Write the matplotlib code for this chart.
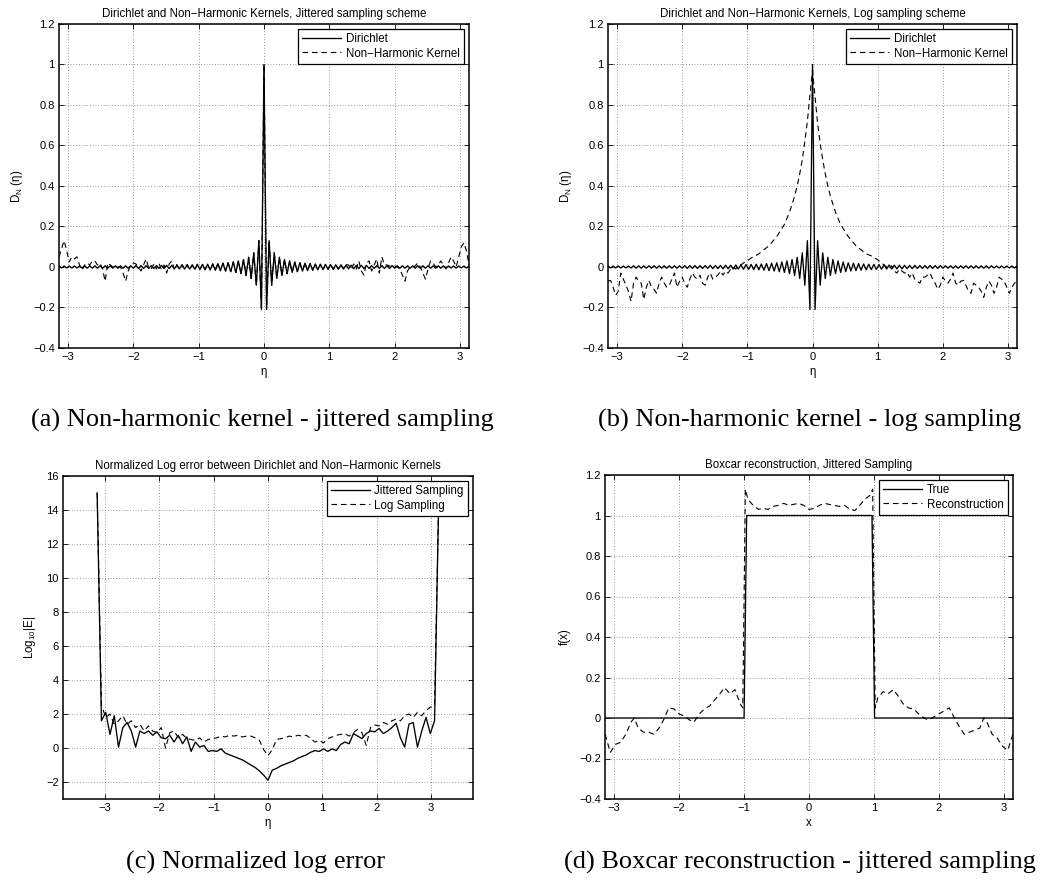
import numpy as np
import matplotlib
matplotlib.use("Agg")
import matplotlib.pyplot as plt

plt.rcParams['font.family'] = ['Liberation Sans', 'DejaVu Sans']
plt.rcParams['mathtext.fontset'] = 'custom'
plt.rcParams['mathtext.rm'] = 'Liberation Sans'
plt.rcParams['mathtext.it'] = 'Liberation Sans:italic'
plt.rcParams['mathtext.default'] = 'regular'
plt.rcParams['axes.unicode_minus'] = True

# ---------------- data ----------------
# panels (a),(b): samples k = -80..80 on [-pi, pi]
dirichlet = [
    0.005, -0.005, 0.005, -0.005, 0.005, -0.005, 0.005, -0.005, 0.005, -0.005,
    0.006, -0.006, 0.006, -0.006, 0.006, -0.006, 0.006, -0.006, 0.006, -0.006,
    0.006, -0.006, 0.006, -0.006, 0.006, -0.006, 0.006, -0.006, 0.006, -0.006,
    0.007, -0.007, 0.007, -0.007, 0.007, -0.007, 0.007, -0.007, 0.007, -0.007,
    0.008, -0.008, 0.008, -0.008, 0.008, -0.009, 0.009, -0.009, 0.009, -0.010,
    0.010, -0.010, 0.011, -0.011, 0.012, -0.012, 0.013, -0.013, 0.014, -0.014,
    0.015, -0.016, 0.017, -0.018, 0.019, -0.020, 0.021, -0.023, 0.025, -0.027,
    0.030, -0.033, 0.037, -0.042, 0.048, -0.057, 0.070, -0.090, 0.130, -0.210,
    1.000,
    -0.210, 0.130, -0.090, 0.070, -0.057, 0.048, -0.042, 0.037, -0.033, 0.030,
    -0.027, 0.025, -0.023, 0.021, -0.020, 0.019, -0.018, 0.017, -0.016, 0.015,
    -0.014, 0.014, -0.013, 0.013, -0.012, 0.012, -0.011, 0.011, -0.010, 0.010,
    -0.010, 0.009, -0.009, 0.009, -0.009, 0.008, -0.008, 0.008, -0.008, 0.008,
    -0.007, 0.007, -0.007, 0.007, -0.007, 0.007, -0.007, 0.007, -0.007, 0.007,
    -0.006, 0.006, -0.006, 0.006, -0.006, 0.006, -0.006, 0.006, -0.006, 0.006,
    -0.006, 0.006, -0.006, 0.006, -0.006, 0.006, -0.006, 0.006, -0.006, 0.006,
    -0.005, 0.005, -0.005, 0.005, -0.005, 0.005, -0.005, 0.005, -0.005, 0.005,
]

nonharm_jitter = [
    0.050, 0.090, 0.130, 0.080, 0.025, 0.050, 0.040, 0.050, 0.010, -0.015,
    0.010, 0.020, 0.010, 0.030, 0.030, 0.010, 0.020, -0.010, -0.070, 0.020,
    0.010, 0.000, 0.005, 0.000, 0.000, -0.030, -0.070, -0.020, 0.010, 0.020,
    0.015, 0.000, -0.020, 0.010, 0.040, -0.005, -0.010, 0.015, -0.010, 0.020,
    -0.015, 0.010, -0.030, 0.015, 0.030, -0.010, 0.012, -0.012,
    0.012, -0.008, 0.013, -0.011, 0.009, -0.012, 0.014, -0.011, 0.012, -0.014,
    0.013, -0.015, 0.015, -0.016, 0.017, -0.018, 0.019, -0.020, 0.021, -0.023,
    0.025, -0.027, 0.030, -0.033, 0.037, -0.042, 0.048, -0.057, 0.070, -0.090,
    0.130, -0.210,
    1.000,
    -0.210, 0.130, -0.090, 0.070, -0.057, 0.048, -0.042, 0.037, -0.033, 0.030,
    -0.027, 0.025, -0.023, 0.021, -0.020, 0.019, -0.018, 0.017, -0.016, 0.015,
    -0.015, 0.013, -0.014, 0.012, -0.011, 0.014, -0.012, 0.009, -0.011, 0.013,
    -0.008, 0.012,
    0.010, -0.012, 0.015, -0.010, 0.030, -0.020, -0.040, 0.020, 0.030, -0.020,
    0.010, 0.040, -0.030, 0.050, 0.010, 0.010, 0.005, 0.000, 0.005, 0.000,
    -0.010, -0.040, -0.070, -0.020, 0.000, 0.000, 0.005, 0.020, 0.000, -0.030,
    -0.060, -0.010, 0.030, 0.020, 0.000, 0.010, 0.030, 0.010, -0.010, 0.020,
    0.050, 0.030, 0.000, 0.050, 0.100, 0.120, 0.080, 0.010,
]

nonharm_log = [
    -0.070, -0.066, -0.100, -0.140, -0.120, -0.030, -0.060, -0.090, -0.120, -0.170,
    -0.080, -0.050, -0.070, -0.080, -0.160, -0.100, -0.066, -0.100, -0.110, -0.130,
    -0.080, -0.050, -0.080, -0.100, -0.090, -0.060, -0.030, -0.100, -0.070, -0.050,
    -0.080, -0.100, -0.060, -0.030, -0.050, -0.060, -0.040, -0.080, -0.090, -0.050,
    -0.030, -0.060, -0.050, -0.040, -0.020, -0.040, -0.020, -0.030,
    -0.010, 0.000, -0.010, 0.010, 0.010, 0.020, 0.025, 0.035, 0.045, 0.050,
    0.058, 0.065, 0.075, 0.085, 0.095, 0.105, 0.120, 0.135, 0.150, 0.170,
    0.190, 0.210, 0.240, 0.270, 0.310, 0.350, 0.400, 0.460, 0.530, 0.620,
    0.720, 0.850,
    0.970,
    0.840, 0.710, 0.610, 0.530, 0.460, 0.400, 0.350, 0.310, 0.270, 0.240,
    0.210, 0.190, 0.170, 0.150, 0.135, 0.120, 0.105, 0.095, 0.085, 0.075,
    0.065, 0.060, 0.055, 0.045, 0.040, 0.030, 0.020, 0.010, 0.000, -0.010,
    0.005, -0.020,
    -0.030, -0.010, -0.020, -0.030, -0.025, -0.050, -0.030, -0.060, -0.070, -0.080,
    -0.050, -0.050, -0.040, -0.030, -0.060, -0.080, -0.110, -0.090, -0.050, -0.070,
    -0.080, -0.060, -0.030, -0.080, -0.090, -0.070, -0.066, -0.090, -0.120, -0.130,
    -0.080, -0.090, -0.100, -0.120, -0.150, -0.100, -0.070, -0.090, -0.130, -0.100,
    -0.050, -0.060, -0.070, -0.100, -0.130, -0.100, -0.080, -0.070,
]

# panel (c): samples k = -40..40 on [-pi, pi]
logerr_jitter = [
    15.0, 1.6, 2.1, 0.8, 1.9, 0.05, 1.2, 1.5, 1.0, 0.05,
    1.0, 0.85, 1.0, 0.75, 0.95, 0.6, 0.55, 0.75, 0.35, 0.75,
    0.25, 0.65, -0.2, 0.35, 0.05, 0.15, -0.2, -0.15, -0.2, -0.05,
    -0.3, -0.4, -0.5, -0.6, -0.7, -0.85, -1.0, -1.15, -1.35, -1.6,
    -1.9,
    -1.3, -1.2, -1.05, -0.95, -0.85, -0.75, -0.6, -0.5, -0.4, -0.25,
    -0.15, -0.2, -0.05, -0.2, -0.05, -0.15, 0.2, 0.35, 0.25, 0.85,
    0.7, 0.55, 0.85, 1.0, 0.95, 1.15, 0.85, 1.0, 1.2, 1.45,
    0.6, 0.05, 1.4, 1.5, 0.05, 1.0, 1.8, 0.85, 1.6, 15.0,
]
logerr_log = [
    15.0, 2.5, 1.8, 2.0, 1.4, 1.6, 1.9, 1.4, 1.6, 1.2,
    1.4, 1.0, 1.3, 1.0, 0.9, 1.2, 0.0, 0.9, 1.0, 0.6,
    0.8, 0.55, 0.5, 0.45, 0.6, 0.35, 0.5, 0.55, 0.6, 0.7,
    0.65, 0.75, 0.7, 0.75, 0.65, 0.7, 0.7, 0.6, 0.45, -0.1,
    -0.45,
    -0.1, 0.5, 0.55, 0.6, 0.7, 0.65, 0.75, 0.7, 0.75, 0.55,
    0.35, 0.45, 0.3, 0.55, 0.65, 0.75, 0.8, 0.85, 0.7, 0.9,
    1.1, 0.9, 0.15, 1.2, 1.35, 1.3, 1.5, 1.4, 1.6, 1.7,
    1.6, 1.9, 2.0, 1.8, 2.1, 1.9, 2.2, 2.4, 2.5, 15.0,
]

# panel (d)
box_x = [-3.1416, -1.0, -0.96, 0.97, 1.01, 3.1416]
box_y = [0.0, 0.0, 1.0, 1.0, 0.0, 0.0]
recon_x = [
    -3.14, -3.06, -2.98, -2.90, -2.82, -2.74, -2.69, -2.63, -2.55, -2.47,
    -2.39, -2.31, -2.24, -2.16, -2.08, -2.00, -1.92, -1.84, -1.77, -1.69,
    -1.61, -1.53, -1.45, -1.37, -1.30, -1.22, -1.14, -1.06, -1.02, -0.98,
    -0.94, -0.86, -0.78, -0.71, -0.63, -0.55, -0.47, -0.39, -0.31, -0.24,
    -0.16, -0.08, 0.00, 0.08, 0.16, 0.24, 0.31, 0.39, 0.47, 0.55,
    0.63, 0.71, 0.78, 0.86, 0.94, 0.98, 1.02, 1.06, 1.14, 1.22,
    1.30, 1.37, 1.45, 1.53, 1.61, 1.69, 1.77, 1.84, 1.92, 2.00,
    2.08, 2.16, 2.24, 2.31, 2.39, 2.47, 2.55, 2.63, 2.69, 2.74,
    2.82, 2.90, 2.98, 3.06, 3.14,
]
recon_y = [
    -0.08, -0.17, -0.13, -0.12, -0.08, -0.02, 0.00, -0.05, -0.07, -0.07,
    -0.08, -0.05, -0.01, 0.05, 0.045, 0.02, 0.01, -0.01, -0.02, 0.02,
    0.045, 0.06, 0.09, 0.12, 0.15, 0.12, 0.14, 0.07, 0.05, 1.13,
    1.08, 1.05, 1.03, 1.035, 1.03, 1.045, 1.05, 1.06, 1.05, 1.055,
    1.06, 1.05, 1.03, 1.035, 1.05, 1.06, 1.055, 1.05, 1.045, 1.05,
    1.03, 1.025, 1.05, 1.08, 1.10, 1.13, 0.05, 0.10, 0.13, 0.12,
    0.14, 0.11, 0.07, 0.05, 0.045, 0.02, 0.00, -0.01, 0.005, 0.02,
    0.035, 0.05, 0.00, -0.04, -0.08, -0.07, -0.06, -0.05, 0.00, -0.02,
    -0.08, -0.10, -0.14, -0.16, -0.08,
]

eta_ab = np.linspace(-np.pi, np.pi, len(dirichlet))
eta_c = np.linspace(-np.pi, np.pi, len(logerr_jitter))

# ---------------- figure ----------------
W, H = 1045, 886
fig = plt.figure(figsize=(W / 100, H / 100), dpi=100)


def box(l, t, r, b):
    return [l / W, 1 - b / H, (r - l) / W, (b - t) / H]


FS = 8.3
TFS = 8.0
DASH = (0, (5, 3.5))


def style(ax):
    ax.tick_params(direction='in', top=True, right=True, length=3.5,
                   width=0.6, labelsize=TFS, pad=3)
    for s in ax.spines.values():
        s.set_linewidth(1.1)
    ax.grid(True, color='k', linestyle=(0, (1, 3)), linewidth=0.5, alpha=0.75)
    ax.set_axisbelow(True)


def legend(ax):
    lg = ax.legend(loc='upper right', fontsize=FS, frameon=True, fancybox=False,
                   edgecolor='k', framealpha=1, handlelength=3.4,
                   borderaxespad=0.45, labelspacing=0.2, handletextpad=0.4,
                   borderpad=0.35)
    lg.get_frame().set_linewidth(0.9)


def kernel_panel(rect, nh, title):
    ax = fig.add_axes(rect)
    ax.plot(eta_ab, dirichlet, color='k', lw=0.95, label='Dirichlet')
    ax.plot(eta_ab, nh, color='k', lw=0.8, linestyle=DASH,
            label='Non\u2212Harmonic Kernel')
    ax.set_xlim(-np.pi, np.pi)
    ax.set_ylim(-0.4, 1.2)
    ax.set_xticks([-3, -2, -1, 0, 1, 2, 3])
    ax.set_yticks([-0.4, -0.2, 0, 0.2, 0.4, 0.6, 0.8, 1, 1.2])
    ax.set_yticklabels(['\u22120.4', '\u22120.2', '0', '0.2', '0.4', '0.6',
                        '0.8', '1', '1.2'])
    ax.set_xlabel('\u03b7', fontsize=FS, labelpad=3)
    ax.set_ylabel('D$_N$ (\u03b7)', fontsize=FS, labelpad=6)
    ax.set_title(title, fontsize=FS, pad=5)
    style(ax)
    legend(ax)
    return ax


kernel_panel(box(59, 24, 469, 348), nonharm_jitter,
             'Dirichlet and Non\u2212Harmonic Kernels, Jittered sampling scheme')
kernel_panel(box(608, 24, 1017, 348), nonharm_log,
             'Dirichlet and Non\u2212Harmonic Kernels, Log sampling scheme')

# (c)
axc = fig.add_axes(box(63, 476, 473, 799))
axc.plot(eta_c, logerr_jitter, color='k', lw=0.95, label='Jittered Sampling')
axc.plot(eta_c, logerr_log, color='k', lw=0.8, linestyle=DASH,
         label='Log Sampling')
axc.set_xlim(-1.2 * np.pi, 1.2 * np.pi)
axc.set_ylim(-3, 16)
axc.set_xticks([-3, -2, -1, 0, 1, 2, 3])
axc.set_yticks(list(range(-2, 17, 2)))
axc.set_xlabel('\u03b7', fontsize=FS, labelpad=3)
axc.set_ylabel('Log$_{10}$|E|', fontsize=FS, labelpad=6)
axc.set_title('Normalized Log error between Dirichlet and Non\u2212Harmonic Kernels',
              fontsize=FS, pad=5)
style(axc)
legend(axc)

# (d)
axd = fig.add_axes(box(605, 475, 1013, 799))
axd.plot(box_x, box_y, color='k', lw=0.95, label='True')
axd.plot(recon_x, recon_y, color='k', lw=0.8, linestyle=DASH,
         label='Reconstruction')
axd.set_xlim(-np.pi, np.pi)
axd.set_ylim(-0.4, 1.2)
axd.set_xticks([-3, -2, -1, 0, 1, 2, 3])
axd.set_yticks([-0.4, -0.2, 0, 0.2, 0.4, 0.6, 0.8, 1, 1.2])
axd.set_yticklabels(['\u22120.4', '\u22120.2', '0', '0.2', '0.4', '0.6',
                     '0.8', '1', '1.2'])
axd.set_xlabel('x', fontsize=FS, labelpad=3)
axd.set_ylabel('f(x)', fontsize=FS, labelpad=6)
axd.set_title('Boxcar reconstruction, Jittered Sampling', fontsize=FS, pad=5)
style(axd)
legend(axd)

# captions
CAP = dict(fontsize=19, family=['Liberation Serif', 'DejaVu Serif'],
           ha='center', va='center')
fig.text(262 / W, 1 - 420 / H, '(a) Non-harmonic kernel - jittered sampling', **CAP)
fig.text(810 / W, 1 - 420 / H, '(b) Non-harmonic kernel - log sampling', **CAP)
fig.text(256 / W, 1 - 862 / H, '(c) Normalized log error', **CAP)
fig.text(800 / W, 1 - 862 / H, '(d) Boxcar reconstruction - jittered sampling', **CAP)

fig.savefig('out.png', dpi=100)
